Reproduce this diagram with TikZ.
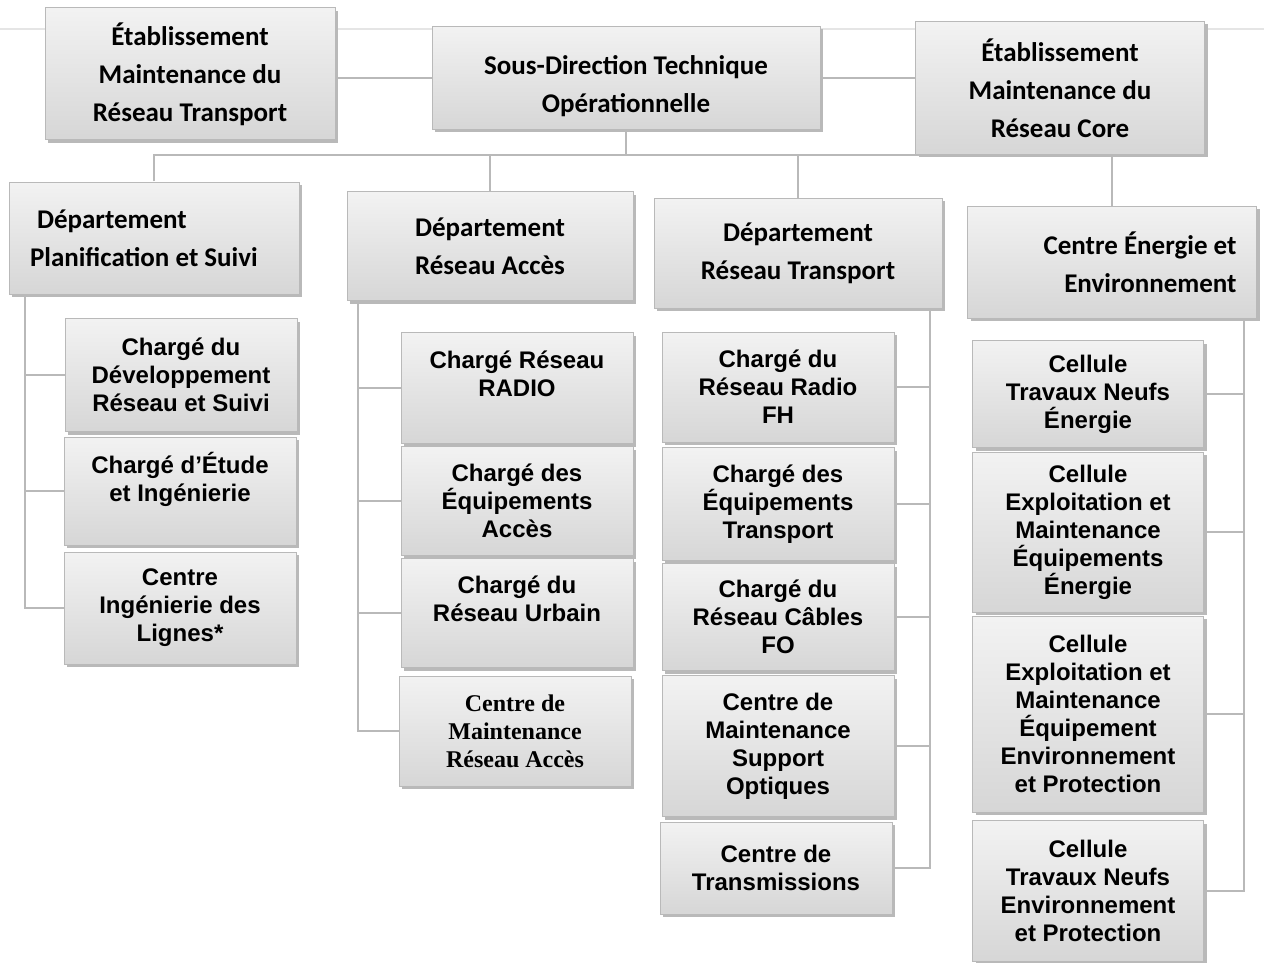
\documentclass[tikz,border=0pt]{standalone}
\usepackage{fontspec}
\setmainfont{Carlito}
\newfontfamily\arialfont{Liberation Sans}
\newfontfamily\timesfont{Liberation Serif}
\usetikzlibrary{shadows}

\tikzset{
  box/.style={draw=gray!55, line width=0.5pt, top color=gray!10, bottom color=gray!32,
    drop shadow={shadow xshift=1.5pt, shadow yshift=-1.5pt, fill=gray!55, opacity=1},
    align=center, inner sep=2pt},
  headbox/.style={box, font=\fontsize{13.5}{19}\selectfont\bfseries},
  cellbox/.style={box, minimum width=116pt, font=\arialfont\fontsize{12}{14}\selectfont\bfseries},
  link/.style={draw=gray!55, line width=1pt},
}

\begin{document}
\begin{tikzpicture}[x=0.5pt,y=-0.5pt]
\useasboundingbox (0,0) rectangle (1264,963);
\draw[gray!20, line width=0.8pt] (0,29) -- (1264,29);

\node[headbox, minimum width=145pt, minimum height=66pt] (etabT) at (190,74) {Établissement\\Maintenance du\\Réseau Transport};
\node[headbox, minimum width=194pt, minimum height=51.5pt] (sdto) at (626,78) {\rule{0pt}{18pt}Sous-Direction Technique\\Opérationnelle};
\node[headbox, minimum width=144.5pt, minimum height=66.5pt] (etabC) at (1060,88) {Établissement\\Maintenance du\\Réseau Core};

\node[headbox, minimum width=145pt, minimum height=56pt, text width=124pt, inner xsep=10.5pt, align=flush left] (dPlan) at (154,238) {\hspace*{3.5pt}Département\\Planification et Suivi};
\node[headbox, minimum width=143pt, minimum height=54.5pt] (dAcces) at (490,246) {Département\\Réseau Accès};
\node[headbox, minimum width=144pt, minimum height=55pt] (dTrans) at (798,253) {Département\\Réseau Transport};
\node[headbox, minimum width=144.5pt, minimum height=56pt, text width=124.5pt, inner xsep=10pt, align=flush right] (dEnv) at (1112,262) {Centre Énergie et\\Environnement};

\node[cellbox, minimum height=56.5pt] (cDev) at (181,375) {Chargé du\\Développement\\Réseau et Suivi};
\node[cellbox, minimum height=54pt] (cEtude) at (180,491) {Chargé d’Étude\\et Ingénierie\\\mbox{}};
\node[cellbox, minimum height=56pt] (cLignes) at (180,608) {Centre\\Ingénierie des\\Lignes*};

\node[cellbox, minimum height=55.5pt] (cRadio) at (517,388) {Chargé Réseau\\RADIO\\\mbox{}};
\node[cellbox, minimum height=54.5pt] (cEquipA) at (517,501) {Chargé des\\Équipements\\Accès};
\node[cellbox, minimum height=54.5pt] (cUrbain) at (517,613) {Chargé du\\Réseau Urbain\\\mbox{}};
\node[cellbox, minimum height=55pt, font=\timesfont\fontsize{12}{14}\selectfont\bfseries] (cMaintA) at (515,731) {Centre de\\Maintenance\\Réseau Accès};

\node[cellbox, minimum height=55pt] (cFH) at (778,387) {Chargé du\\Réseau Radio\\FH};
\node[cellbox, minimum height=56.5pt] (cEquipT) at (778,504) {Chargé des\\Équipements\\Transport};
\node[cellbox, minimum height=53.5pt] (cFO) at (778,617) {Chargé du\\Réseau Câbles\\FO};
\node[cellbox, minimum height=70.5pt] (cSupport) at (778,746) {Centre de\\Maintenance\\Support\\Optiques};
\node[cellbox, minimum height=46pt] (cTransm) at (776,868) {Centre de\\Transmissions};

\node[cellbox, minimum width=115.5pt, minimum height=53.5pt] (cTNE) at (1088,394) {Cellule\\Travaux Neufs\\Énergie};
\node[cellbox, minimum width=115.5pt, minimum height=80pt] (cExplE) at (1088,532) {Cellule\\Exploitation et\\Maintenance\\Équipements\\Énergie};
\node[cellbox, minimum width=115.5pt, minimum height=98pt] (cExplEnv) at (1088,714) {Cellule\\Exploitation et\\Maintenance\\Équipement\\Environnement\\et Protection};
\node[cellbox, minimum width=115.5pt, minimum height=70.5pt] (cTNEnv) at (1088,891) {Cellule\\Travaux Neufs\\Environnement\\et Protection};

\coordinate (bus) at (626,155);
\coordinate (t1) at (25,0);
\coordinate (t2) at (358,0);
\coordinate (t3) at (930,0);
\coordinate (t4) at (1244,0);

\draw[link] (sdto.west) -- (sdto.west -| etabT.east);
\draw[link] (sdto.east) -- (sdto.east -| etabC.west);
\draw[link] (sdto.south) -- (bus);
\draw[link] (dPlan.north) |- (bus) -| (dEnv.north);
\draw[link] (dAcces.north) -- (dAcces.north |- bus);
\draw[link] (dTrans.north) -- (dTrans.north |- bus);

\draw[link] (dPlan.south -| t1) |- (cLignes.west);
\foreach \cell in {cDev,cEtude} \draw[link] (\cell.west) -- (\cell.west -| t1);
\draw[link] (dAcces.south -| t2) |- (cMaintA.west);
\foreach \cell in {cRadio,cEquipA,cUrbain} \draw[link] (\cell.west) -- (\cell.west -| t2);
\draw[link] (dTrans.south -| t3) |- (cTransm.east);
\foreach \cell in {cFH,cEquipT,cFO,cSupport} \draw[link] (\cell.east) -- (\cell.east -| t3);
\draw[link] (dEnv.south -| t4) |- (cTNEnv.east);
\foreach \cell in {cTNE,cExplE,cExplEnv} \draw[link] (\cell.east) -- (\cell.east -| t4);
\end{tikzpicture}
\end{document}
